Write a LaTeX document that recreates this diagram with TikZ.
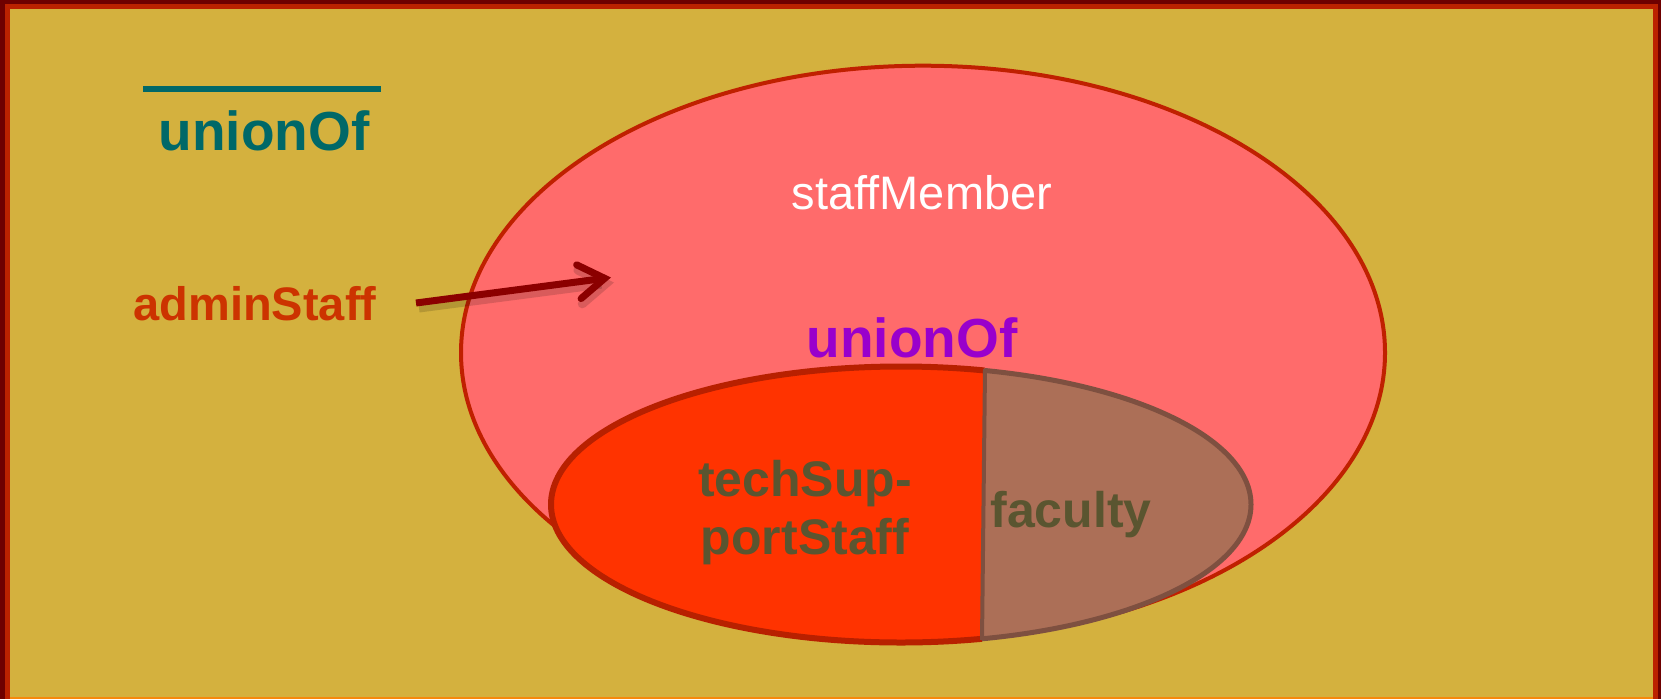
\documentclass[tikz,border=0pt]{standalone}
\usepackage{fontspec}
\setmainfont{Liberation Sans}
\usetikzlibrary{arrows.meta}
\definecolor{bgyellow}{RGB}{212,177,62}
\definecolor{framedark}{RGB}{110,0,0}
\definecolor{framered}{RGB}{187,34,0}
\definecolor{pinkfill}{RGB}{255,107,107}
\definecolor{bigborder}{RGB}{192,32,0}
\definecolor{leftfill}{RGB}{255,51,0}
\definecolor{leftborder}{RGB}{184,32,0}
\definecolor{rightfill}{RGB}{172,111,87}
\definecolor{rightborder}{RGB}{126,80,64}
\definecolor{olivetext}{RGB}{90,85,48}
\definecolor{tealtext}{RGB}{0,104,104}
\definecolor{purpletext}{RGB}{153,0,204}
\definecolor{admintext}{RGB}{204,51,0}
\definecolor{arrowred}{RGB}{139,0,0}
\tikzset{
  bigtxt/.style={font=\fontsize{55}{60}\selectfont\bfseries, inner sep=0pt, anchor=base},
  midtxt/.style={font=\fontsize{50}{58}\selectfont\bfseries, inner sep=0pt, anchor=base},
  admtxt/.style={font=\fontsize{47}{54}\selectfont\bfseries, inner sep=0pt, anchor=base},
  plaintxt/.style={font=\fontsize{47}{54}\selectfont, inner sep=0pt, anchor=base},
  arrowtip/.style={-{Straight Barb[length=26pt,width=34pt,line cap=round]}},
}
\begin{document}
\begin{tikzpicture}[x=1pt,y=-1pt]
\useasboundingbox (0,0) rectangle (1661,699);
% frame
\fill[framedark] (0,0) rectangle (1661,699);
\fill[framered] (5,4) rectangle (1658,699);
\fill[bgyellow] (10,9) rectangle (1653,697);
\fill[orange!80!bgyellow] (10,697) rectangle (1653,699);
% big ellipse
\draw[bigborder, fill=pinkfill, line width=4pt] (923,352.7) ellipse [x radius=462, y radius=287];
% small ellipse, left part
\begin{scope}
\clip (500,300) -- (985.3,300) -- (981.5,700) -- (500,700) -- cycle;
\draw[leftborder, fill=leftfill, line width=6pt] (901,504.5) ellipse [x radius=350, y radius=138];
\end{scope}
% small ellipse, right part
\begin{scope}
\clip (985.3,300) -- (1300,300) -- (1300,700) -- (981.5,700) -- cycle;
\draw[rightborder, fill=rightfill, line width=5pt] (901,504.5) ellipse [x radius=350, y radius=138];
\end{scope}
\coordinate (splittop) at (985,369);
\coordinate (splitbot) at (982,640);
\draw[rightborder, line width=4pt] (splittop) -- (splitbot);
% texts
\draw[tealtext, line width=6pt] (143,89) -- (381,89);
\node[bigtxt, text=tealtext] (u1) at (264,150) {unionOf};
\node[plaintxt, text=white] (sm) at (922,209) {staffMember};
\node[bigtxt, text=purpletext] (u2) at (912,357) {unionOf};
\node[admtxt, text=admintext] (adm) at (255,320) {adminStaff};
\node[midtxt, text=olivetext] (ts1) at (805,496) {techSup-};
\node[midtxt, text=olivetext] (ts2) at (805,554) {portStaff};
\node[midtxt, text=olivetext] (fac) at (1071,527) {faculty};
% arrow
\coordinate (arrS) at (416,303);
\coordinate (arrE) at (611,277.5);
\draw[black, opacity=0.15, line width=9pt, arrowtip] ([shift={(3,5)}]arrS) -- ([shift={(3,5)}]arrE);
\draw[arrowred, line width=7pt, arrowtip] (arrS) -- (arrE);
\end{tikzpicture}
\end{document}
